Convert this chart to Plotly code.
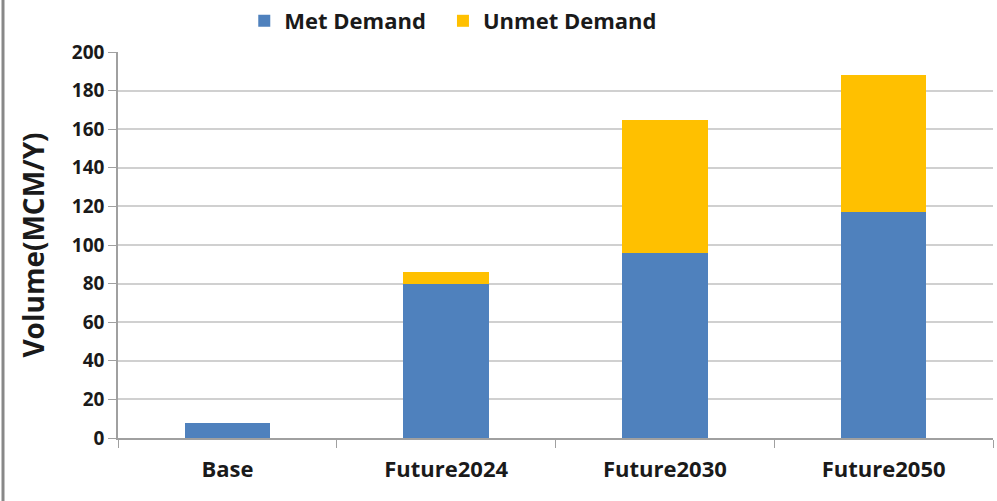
import plotly.graph_objects as go

categories = ["Base", "Future2024", "Future2030", "Future2050"]
met_demand = [8, 80, 96, 117]
unmet_demand = [0, 6, 69, 71]
y_ticks = [0, 20, 40, 60, 80, 100, 120, 140, 160, 180, 200]

FONT = "Open Sans"
TXT = "#1a1a1a"

fig = go.Figure()
fig.add_trace(go.Bar(name="Met Demand", x=categories, y=met_demand, legend="legend",
                     marker=dict(color="#4F81BD", line=dict(width=0)), width=0.39))
fig.add_trace(go.Bar(name="Unmet Demand", x=categories, y=unmet_demand, legend="legend2",
                     marker=dict(color="#FFC000", line=dict(width=0)), width=0.39))

leg_common = dict(orientation="h", xref="container", yref="container",
                  y=1.0, xanchor="left", yanchor="top",
                  font=dict(size=22, family=FONT, weight="bold", color=TXT),
                  itemwidth=30, bgcolor="rgba(0,0,0,0)")

fig.update_layout(
    barmode="stack",
    width=997, height=501,
    margin=dict(l=118, r=4, t=52, b=63, autoexpand=False),
    paper_bgcolor="white", plot_bgcolor="white",
    font=dict(family=FONT, size=18, color=TXT),
    legend=dict(x=0.245, **leg_common),
    legend2=dict(x=0.4443, **leg_common),
    showlegend=True,
)
fig.update_yaxes(range=[0, 200], tickvals=y_ticks, showgrid=True, gridcolor="#D0D0D0",
                 gridwidth=1.5, showline=True, linecolor="#A0A0A0", linewidth=1.5,
                 ticks="outside", ticklen=8, tickcolor="#A0A0A0", automargin=False,
                 tickfont=dict(size=19, family=FONT, weight="bold", color=TXT),
                 title=dict(text="Volume(MCM/Y)", font=dict(size=28, family=FONT, weight="bold", color=TXT),
                            standoff=19),
                 zeroline=False)
fig.update_xaxes(showline=True, linecolor="#A0A0A0", linewidth=1.5, automargin=False,
                 ticks="outside", tickson="boundaries", ticklen=8, tickcolor="#A0A0A0",
                 ticklabelstandoff=11,
                 tickfont=dict(size=22, family=FONT, weight="bold", color=TXT))

fig.add_shape(type="line", xref="paper", yref="paper",
              x0=(3 - 118) / 875, x1=(3 - 118) / 875, y0=-63 / 386, y1=1 + 52 / 386,
              line=dict(color="#888888", width=3))

fig.write_html("out.html")
